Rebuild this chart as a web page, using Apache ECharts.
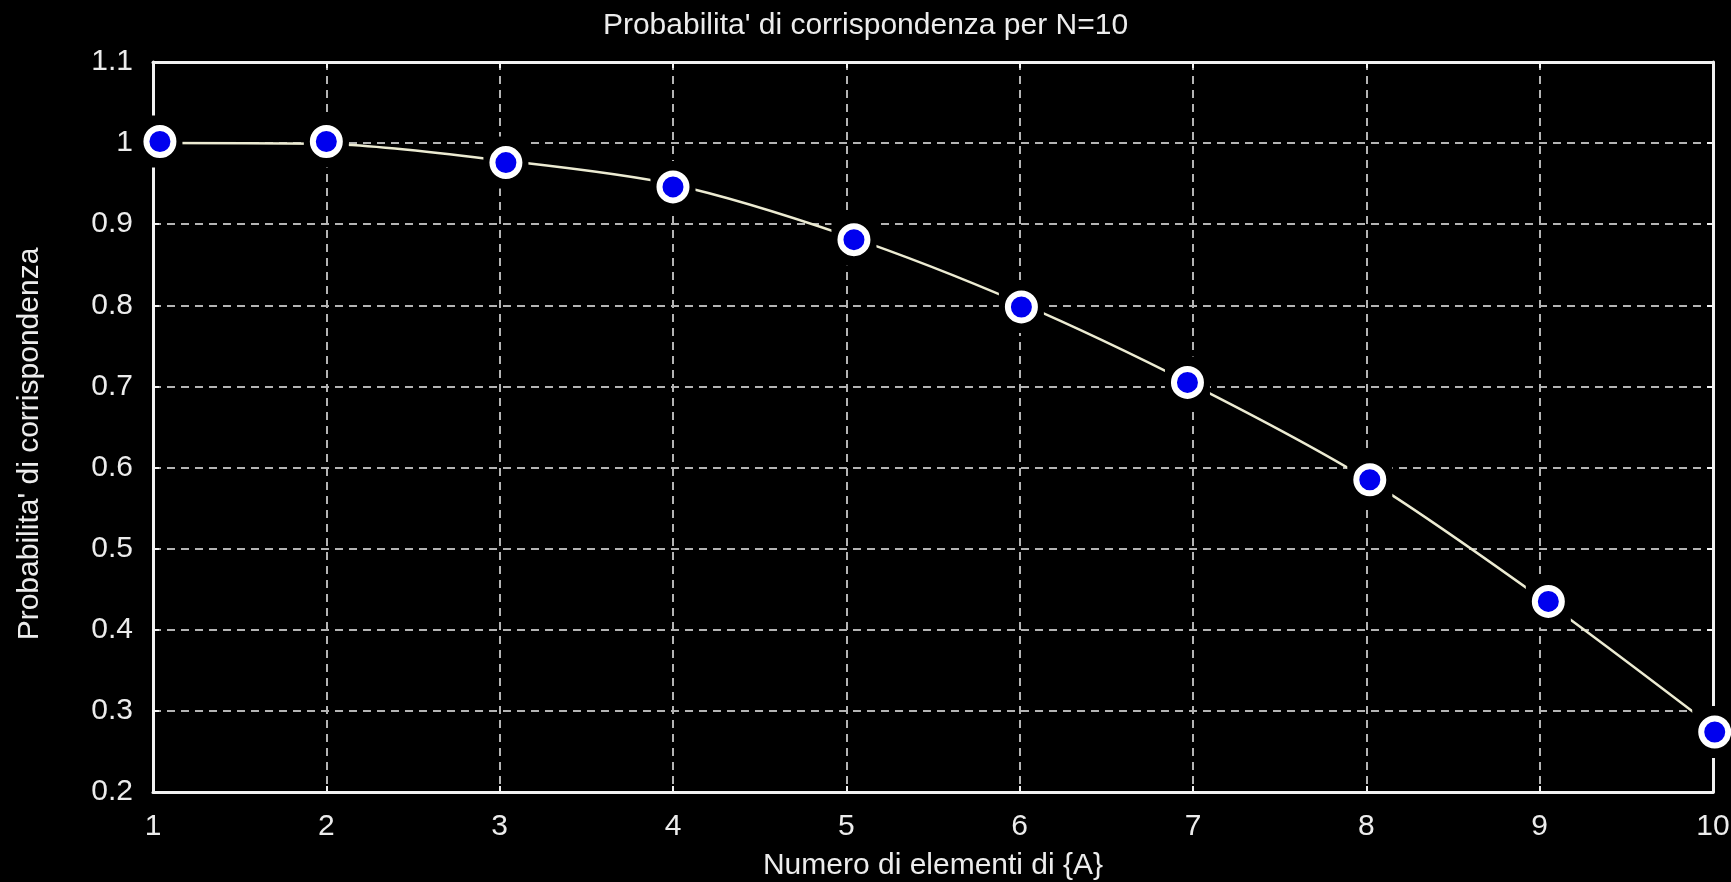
<!DOCTYPE html>
<html>
<head>
<meta charset="utf-8">
<script src="https://cdn.jsdelivr.net/npm/echarts@6/dist/echarts.min.js"></script>
<style>
html,body{margin:0;padding:0;background:#000;}
#chart{width:1731px;height:882px;}
</style>
</head>
<body>
<div id="chart"></div>
<script>
// Measured data points (markers)
const xMarkers = [1.04, 2.0, 3.036, 4.0, 5.044, 6.01, 6.968, 8.02, 9.05, 10.01];
const yMarkers = [1.002, 1.002, 0.976, 0.946, 0.881, 0.798, 0.705, 0.585, 0.435, 0.274];
// Curve
const xCurve = [1, 2, 3, 4, 5, 6, 7, 8, 9, 10];
const yCurve = [1.0, 0.999, 0.979, 0.949, 0.886, 0.803, 0.702, 0.586, 0.44, 0.28];
// Axis settings
const xMin = 1, xMax = 10, xStep = 1;
const yMin = 0.2, yMax = 1.1, yStep = 0.1;

const titleText = "Probabilita' di corrispondenza per N=10";
const xName = "Numero di elementi di {A}";
const yName = "Probabilita' di corrispondenza";

const FONT = "'Liberation Sans', Arial, sans-serif";
const TXT = '#ececec';

const markerData = xMarkers.map((x, i) => [x, yMarkers[i]]);
const curveData = xCurve.map((x, i) => [x, yCurve[i]]);

const gridLine = {show: true, lineStyle: {color: '#b4b4b4', width: 2, type: [8, 6]}};
const boxLine = {show: true, lineStyle: {color: '#f2f2f2', width: 3}};
const tick = {show: true, inside: true, length: 6, lineStyle: {color: '#f2f2f2', width: 2}};

const chart = echarts.init(document.getElementById('chart'));
chart.setOption({
  backgroundColor: '#000',
  animation: false,
  title: {
    text: titleText,
    left: 'center',
    top: 6,
    textStyle: {color: TXT, fontFamily: FONT, fontSize: 30, fontWeight: 'normal'}
  },
  grid: {left: 153, right: 18, top: 62, bottom: 90, containLabel: false, outerBoundsMode: 'none'},
  xAxis: [{
    type: 'value', min: xMin, max: xMax, interval: xStep, position: 'bottom',
    axisLine: boxLine, axisTick: tick, splitLine: gridLine,
    axisLabel: {color: TXT, fontFamily: FONT, fontSize: 30, margin: 20},
    name: xName, nameLocation: 'middle', nameGap: 59,
    nameTextStyle: {color: TXT, fontFamily: FONT, fontSize: 30}
  }, {
    type: 'value', min: xMin, max: xMax, interval: xStep, position: 'top',
    axisLine: boxLine, axisTick: tick, splitLine: {show: false}, axisLabel: {show: false}
  }],
  yAxis: [{
    type: 'value', min: yMin, max: yMax, interval: yStep, position: 'left',
    axisLine: boxLine, axisTick: tick, splitLine: gridLine,
    axisLabel: {color: TXT, fontFamily: FONT, fontSize: 30, margin: 20,
      formatter: v => String(+v.toFixed(1))},
    name: yName, nameLocation: 'middle', nameGap: 108, nameRotate: 90,
    nameTextStyle: {color: TXT, fontFamily: FONT, fontSize: 30, padding: [0, 34, 0, 0]}
  }, {
    type: 'value', min: yMin, max: yMax, interval: yStep, position: 'right',
    axisLine: boxLine, axisTick: tick, splitLine: {show: false}, axisLabel: {show: false}
  }],
  series: [{
    type: 'line',
    data: curveData,
    smooth: 0.3,
    showSymbol: false,
    clip: false,
    z: 2,
    lineStyle: {color: '#ecebd2', width: 2.5}
  }, {
    type: 'scatter',
    data: markerData,
    symbol: 'rect',
    symbolSize: [45, 52],
    clip: false,
    z: 3,
    silent: true,
    itemStyle: {color: '#000', opacity: 1}
  }, {
    type: 'scatter',
    data: markerData,
    symbol: 'circle',
    symbolSize: 27,
    clip: false,
    z: 4,
    itemStyle: {color: '#0000ee', borderColor: '#ffffff', borderWidth: 6, opacity: 1}
  }]
});
</script>
</body>
</html>
